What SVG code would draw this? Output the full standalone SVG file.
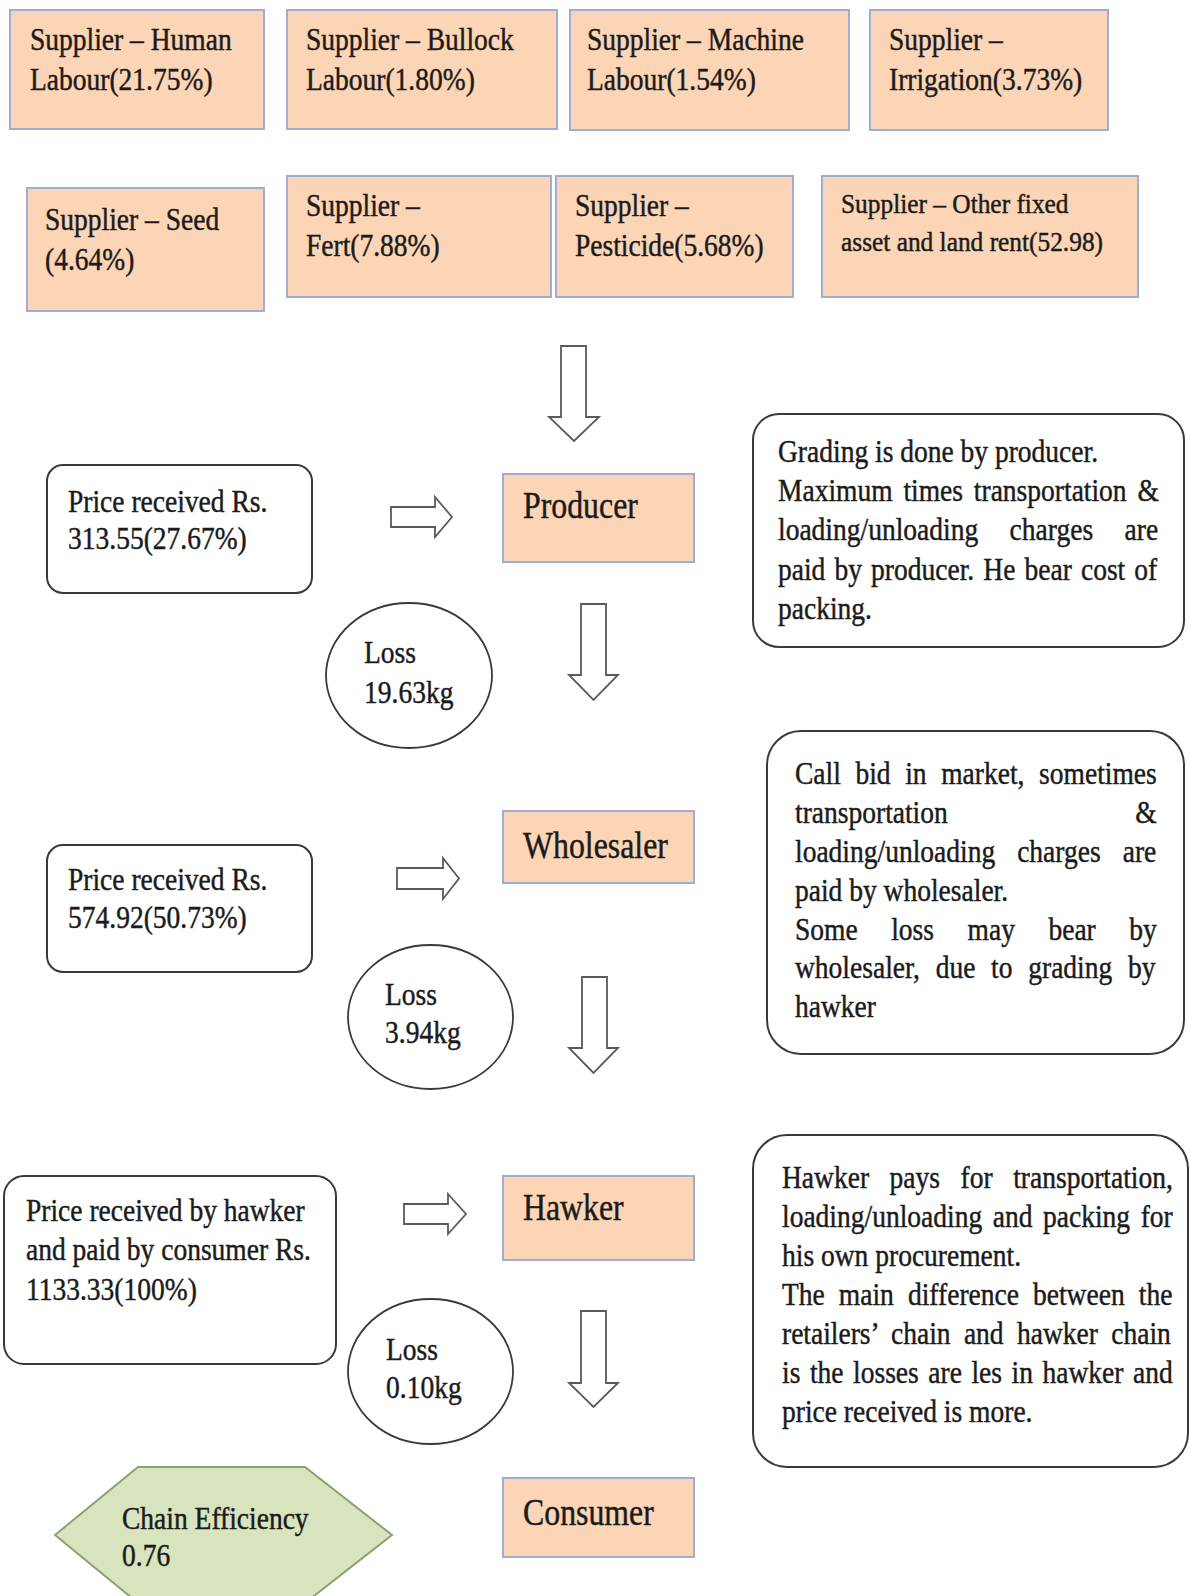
<svg xmlns="http://www.w3.org/2000/svg" width="1190" height="1596" viewBox="0 0 1190 1596">
<style>
.sup{fill:#fbd5b5;stroke:#9eaed0;stroke-width:2}
.t{font-family:"Liberation Serif","Times New Roman",serif;font-size:32px;fill:#1b1b1b;stroke:#1b1b1b;stroke-width:0.45}
.lbl{font-size:37px}
.sm{font-size:27px}
.rbox{fill:#fff;stroke:#3a3a3a;stroke-width:2}
.loss{fill:#fff;stroke:#3a3a3a;stroke-width:1.8}
.arr{fill:#fff;stroke:#5a5a5a;stroke-width:1.8;stroke-linejoin:miter}
.hex{fill:#d7e4bd;stroke:#8fa070;stroke-width:2}
</style>
<rect width="1190" height="1596" fill="#fff"/>

<g id="sup-human"><rect class="sup" x="10" y="10" width="254" height="119"/>
<text class="t" transform="translate(30 0) scale(0.86 1)"><tspan x="0" y="50">Supplier – Human</tspan><tspan x="0" y="90">Labour(21.75%)</tspan></text></g>
<g id="sup-bullock"><rect class="sup" x="287" y="10" width="270" height="119"/>
<text class="t" transform="translate(306 0) scale(0.86 1)"><tspan x="0" y="50">Supplier – Bullock</tspan><tspan x="0" y="90">Labour(1.80%)</tspan></text></g>
<g id="sup-machine"><rect class="sup" x="570" y="10" width="279" height="120"/>
<text class="t" transform="translate(587 0) scale(0.86 1)"><tspan x="0" y="50">Supplier – Machine</tspan><tspan x="0" y="90">Labour(1.54%)</tspan></text></g>
<g id="sup-irrigation"><rect class="sup" x="870" y="10" width="238" height="120"/>
<text class="t" transform="translate(889 0) scale(0.86 1)"><tspan x="0" y="50">Supplier –</tspan><tspan x="0" y="90">Irrigation(3.73%)</tspan></text></g>

<g id="sup-seed"><rect class="sup" x="27" y="188" width="237" height="123"/>
<text class="t" transform="translate(45 0) scale(0.86 1)"><tspan x="0" y="230">Supplier – Seed</tspan><tspan x="0" y="270">(4.64%)</tspan></text></g>
<g id="sup-fert"><rect class="sup" x="287" y="176" width="264" height="121"/>
<text class="t" transform="translate(306 0) scale(0.86 1)"><tspan x="0" y="216">Supplier –</tspan><tspan x="0" y="256">Fert(7.88%)</tspan></text></g>
<g id="sup-pesticide"><rect class="sup" x="556" y="176" width="237" height="121"/>
<text class="t" transform="translate(575 0) scale(0.86 1)"><tspan x="0" y="216">Supplier –</tspan><tspan x="0" y="256">Pesticide(5.68%)</tspan></text></g>
<g id="sup-other"><rect class="sup" x="822" y="176" width="316" height="121"/>
<text class="t sm" transform="translate(841 0) scale(0.94 1)"><tspan x="0" y="213">Supplier – Other fixed</tspan><tspan x="0" y="251">asset and land rent(52.98)</tspan></text></g>

<g id="connectors">
<path class="arr" d="M561,346 H586 V417 H599 L574,441 L549,417 H561 Z"/>
<path class="arr" d="M581,604 H606 V675 H618 L593.5,700 L569,675 H581 Z"/>
<path class="arr" d="M582,977 H607 V1048 H618 L593.5,1073 L569,1048 H582 Z"/>
<path class="arr" d="M581,1311 H606 V1383 H618 L593.5,1407 L569,1383 H581 Z"/>
<path class="arr" d="M391,507 H435 V497 L452,517 L435,537 V527 H391 Z"/>
<path class="arr" d="M397,868 H443 V858 L459,878.5 L443,899 V889 H397 Z"/>
<path class="arr" d="M404,1204 H448 V1194 L466,1214 L448,1234 V1224 H404 Z"/>
</g>

<g id="producer"><rect class="sup" x="503" y="474" width="191" height="88"/>
<text class="t lbl" transform="translate(523 518) scale(0.86 1)">Producer</text></g>
<g id="wholesaler"><rect class="sup" x="503" y="811" width="191" height="72"/>
<text class="t lbl" transform="translate(523 858) scale(0.86 1)">Wholesaler</text></g>
<g id="hawker"><rect class="sup" x="503" y="1176" width="191" height="84"/>
<text class="t lbl" transform="translate(523 1220) scale(0.86 1)">Hawker</text></g>
<g id="consumer"><rect class="sup" x="503" y="1478" width="191" height="79"/>
<text class="t lbl" transform="translate(523 1525) scale(0.86 1)">Consumer</text></g>

<g id="price1"><rect class="rbox" x="47" y="465" width="265" height="128" rx="16"/>
<text class="t" transform="translate(68 0) scale(0.86 1)"><tspan x="0" y="512">Price received Rs.</tspan><tspan x="0" y="549">313.55(27.67%)</tspan></text></g>
<g id="price2"><rect class="rbox" x="47" y="845" width="265" height="127" rx="16"/>
<text class="t" transform="translate(68 0) scale(0.86 1)"><tspan x="0" y="890">Price received Rs.</tspan><tspan x="0" y="928">574.92(50.73%)</tspan></text></g>
<g id="price3"><rect class="rbox" x="4" y="1176" width="332" height="188" rx="20"/>
<text class="t" transform="translate(26 0) scale(0.86 1)"><tspan x="0" y="1221">Price received by hawker</tspan><tspan x="0" y="1260">and paid by consumer Rs.</tspan><tspan x="0" y="1300">1133.33(100%)</tspan></text></g>

<g id="loss1"><ellipse class="loss" cx="409" cy="675.5" rx="83" ry="72.5"/>
<text class="t" transform="translate(364 0) scale(0.86 1)"><tspan x="0" y="663">Loss</tspan><tspan x="0" y="703">19.63kg</tspan></text></g>
<g id="loss2"><ellipse class="loss" cx="430.5" cy="1017" rx="82.5" ry="72"/>
<text class="t" transform="translate(385 0) scale(0.86 1)"><tspan x="0" y="1005">Loss</tspan><tspan x="0" y="1043">3.94kg</tspan></text></g>
<g id="loss3"><ellipse class="loss" cx="430.5" cy="1371.5" rx="82.5" ry="72.5"/>
<text class="t" transform="translate(386 0) scale(0.86 1)"><tspan x="0" y="1360">Loss</tspan><tspan x="0" y="1398">0.10kg</tspan></text></g>

<g id="note1"><rect class="rbox" x="753" y="414" width="431" height="233" rx="26"/>
<text class="t" transform="translate(778 0) scale(0.86 1)">
<tspan x="0" y="462">Grading is done by producer.</tspan>
<tspan x="0" y="501" style="word-spacing:4.6px">Maximum times transportation &amp;</tspan>
<tspan x="0" y="540" style="word-spacing:28.6px">loading/unloading charges are</tspan>
<tspan x="0" y="580" style="word-spacing:2.6px">paid by producer. He bear cost of</tspan>
<tspan x="0" y="619">packing.</tspan>
</text></g>

<g id="note2"><rect class="rbox" x="767" y="731" width="417" height="323" rx="34"/>
<text class="t" transform="translate(795 0) scale(0.86 1)">
<tspan x="0" y="784" style="word-spacing:9px">Call bid in market, sometimes</tspan>
<tspan x="0" y="823" style="word-spacing:210px">transportation &amp;</tspan>
<tspan x="0" y="862" style="word-spacing:17.6px">loading/unloading charges are</tspan>
<tspan x="0" y="901">paid by wholesaler.</tspan>
<tspan x="0" y="940" style="word-spacing:31px">Some loss may bear by</tspan>
<tspan x="0" y="978" style="word-spacing:10.3px">wholesaler, due to grading by</tspan>
<tspan x="0" y="1017">hawker</tspan>
</text></g>

<g id="note3"><rect class="rbox" x="753" y="1135" width="435" height="332" rx="34"/>
<text class="t" transform="translate(782 0) scale(0.86 1)">
<tspan x="0" y="1188" style="word-spacing:15.9px">Hawker pays for transportation,</tspan>
<tspan x="0" y="1227" style="word-spacing:4.3px">loading/unloading and packing for</tspan>
<tspan x="0" y="1266">his own procurement.</tspan>
<tspan x="0" y="1305" style="word-spacing:8.4px">The main difference between the</tspan>
<tspan x="0" y="1344" style="word-spacing:7.5px">retailers’ chain and hawker chain</tspan>
<tspan x="0" y="1383" style="word-spacing:3.1px">is the losses are les in hawker and</tspan>
<tspan x="0" y="1422">price received is more.</tspan>
</text></g>

<g id="chain-efficiency"><polygon class="hex" points="55,1535 138,1467 305,1467 392,1535 305,1603 138,1603"/>
<text class="t" transform="translate(122 0) scale(0.86 1)"><tspan x="0" y="1529">Chain Efficiency</tspan><tspan x="0" y="1566">0.76</tspan></text></g>
</svg>
